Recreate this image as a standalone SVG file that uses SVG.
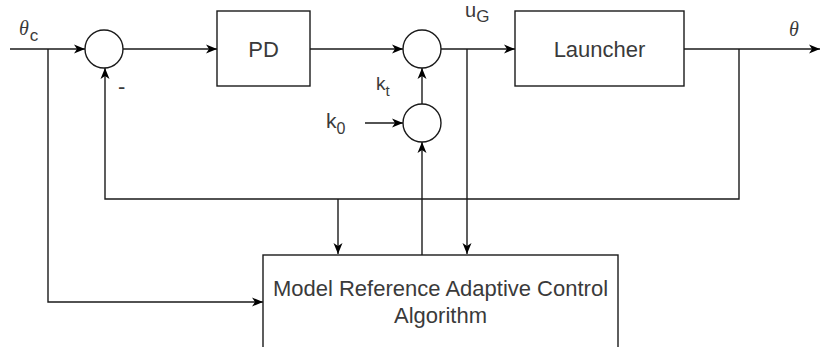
<svg xmlns="http://www.w3.org/2000/svg" width="822" height="347" viewBox="0 0 822 347">
  <style>
    .blk { fill: #ffffff; stroke: #1a1a1a; stroke-width: 1.4; }
    .wire { fill: none; stroke: #1a1a1a; stroke-width: 1.4; }
    .lbl { font-family: "Liberation Sans", Arial, sans-serif; fill: #3a3a3a; }
    .box { font-size: 22px; }
    .sym { font-family: "Liberation Serif", "Times New Roman", serif; font-style: italic; fill: #3a3a3a; }
  </style>
  <defs>
    <marker id="arrow" markerUnits="userSpaceOnUse" markerWidth="12" markerHeight="10" refX="11" refY="5" orient="auto">
      <path d="M0,0.5 L11,5 L0,9.5 L3,5 Z" fill="#000000"/>
    </marker>
  </defs>
  <rect width="822" height="347" fill="#ffffff"/>

  <!-- signal wires -->
  <g id="connectors">
    <path class="wire" d="M10,49 H85" marker-end="url(#arrow)"/>
    <path class="wire" d="M48,49 V302 H263" marker-end="url(#arrow)"/>
    <path class="wire" d="M123,49 H217" marker-end="url(#arrow)"/>
    <path class="wire" d="M310,49 H403" marker-end="url(#arrow)"/>
    <path class="wire" d="M441,49 H515" marker-end="url(#arrow)"/>
    <path class="wire" d="M467,49 V254" marker-end="url(#arrow)"/>
    <path class="wire" d="M684,49 H820" marker-end="url(#arrow)"/>
    <path class="wire" d="M739,49 V199 H105 V68" marker-end="url(#arrow)"/>
    <path class="wire" d="M338,199 V254" marker-end="url(#arrow)"/>
    <path class="wire" d="M422,255 V142" marker-end="url(#arrow)"/>
    <path class="wire" d="M422,104 V68" marker-end="url(#arrow)"/>
    <path class="wire" d="M365,123 H403" marker-end="url(#arrow)"/>
  </g>

  <g id="sum1">
    <circle class="blk" cx="104" cy="49" r="19"/>
  </g>
  <g id="pd">
    <rect class="blk" x="217" y="11" width="93" height="75"/>
    <text class="lbl box" x="263.5" y="57" text-anchor="middle">PD</text>
  </g>
  <g id="sum2">
    <circle class="blk" cx="422" cy="49" r="19"/>
  </g>
  <g id="sum3">
    <circle class="blk" cx="422" cy="123" r="19"/>
  </g>
  <g id="launcher">
    <rect class="blk" x="515" y="11" width="169" height="75"/>
    <text class="lbl box" x="599.5" y="57" text-anchor="middle">Launcher</text>
  </g>
  <g id="mrac">
    <rect class="blk" x="263" y="255" width="355" height="110"/>
    <text class="lbl box" x="440.5" y="296" text-anchor="middle">Model Reference Adaptive Control</text>
    <text class="lbl box" x="440.5" y="323" text-anchor="middle">Algorithm</text>
  </g>

  <!-- signal labels -->
  <g id="labels">
    <text class="sym" x="19" y="35" font-size="20">θ<tspan class="lbl" font-style="normal" font-size="17" dx="1" dy="6">c</tspan></text>
    <text class="lbl" x="118" y="94" font-size="22">-</text>
    <text class="lbl" x="465" y="17" font-size="20">u<tspan font-size="17" dy="5">G</tspan></text>
    <text class="lbl" x="376" y="90" font-size="19">k<tspan font-size="15" dy="6">t</tspan></text>
    <text class="lbl" x="326" y="128" font-size="21">k<tspan font-size="16" dy="6">0</tspan></text>
    <text class="sym" x="789" y="36" font-size="20">θ</text>
  </g>
</svg>
